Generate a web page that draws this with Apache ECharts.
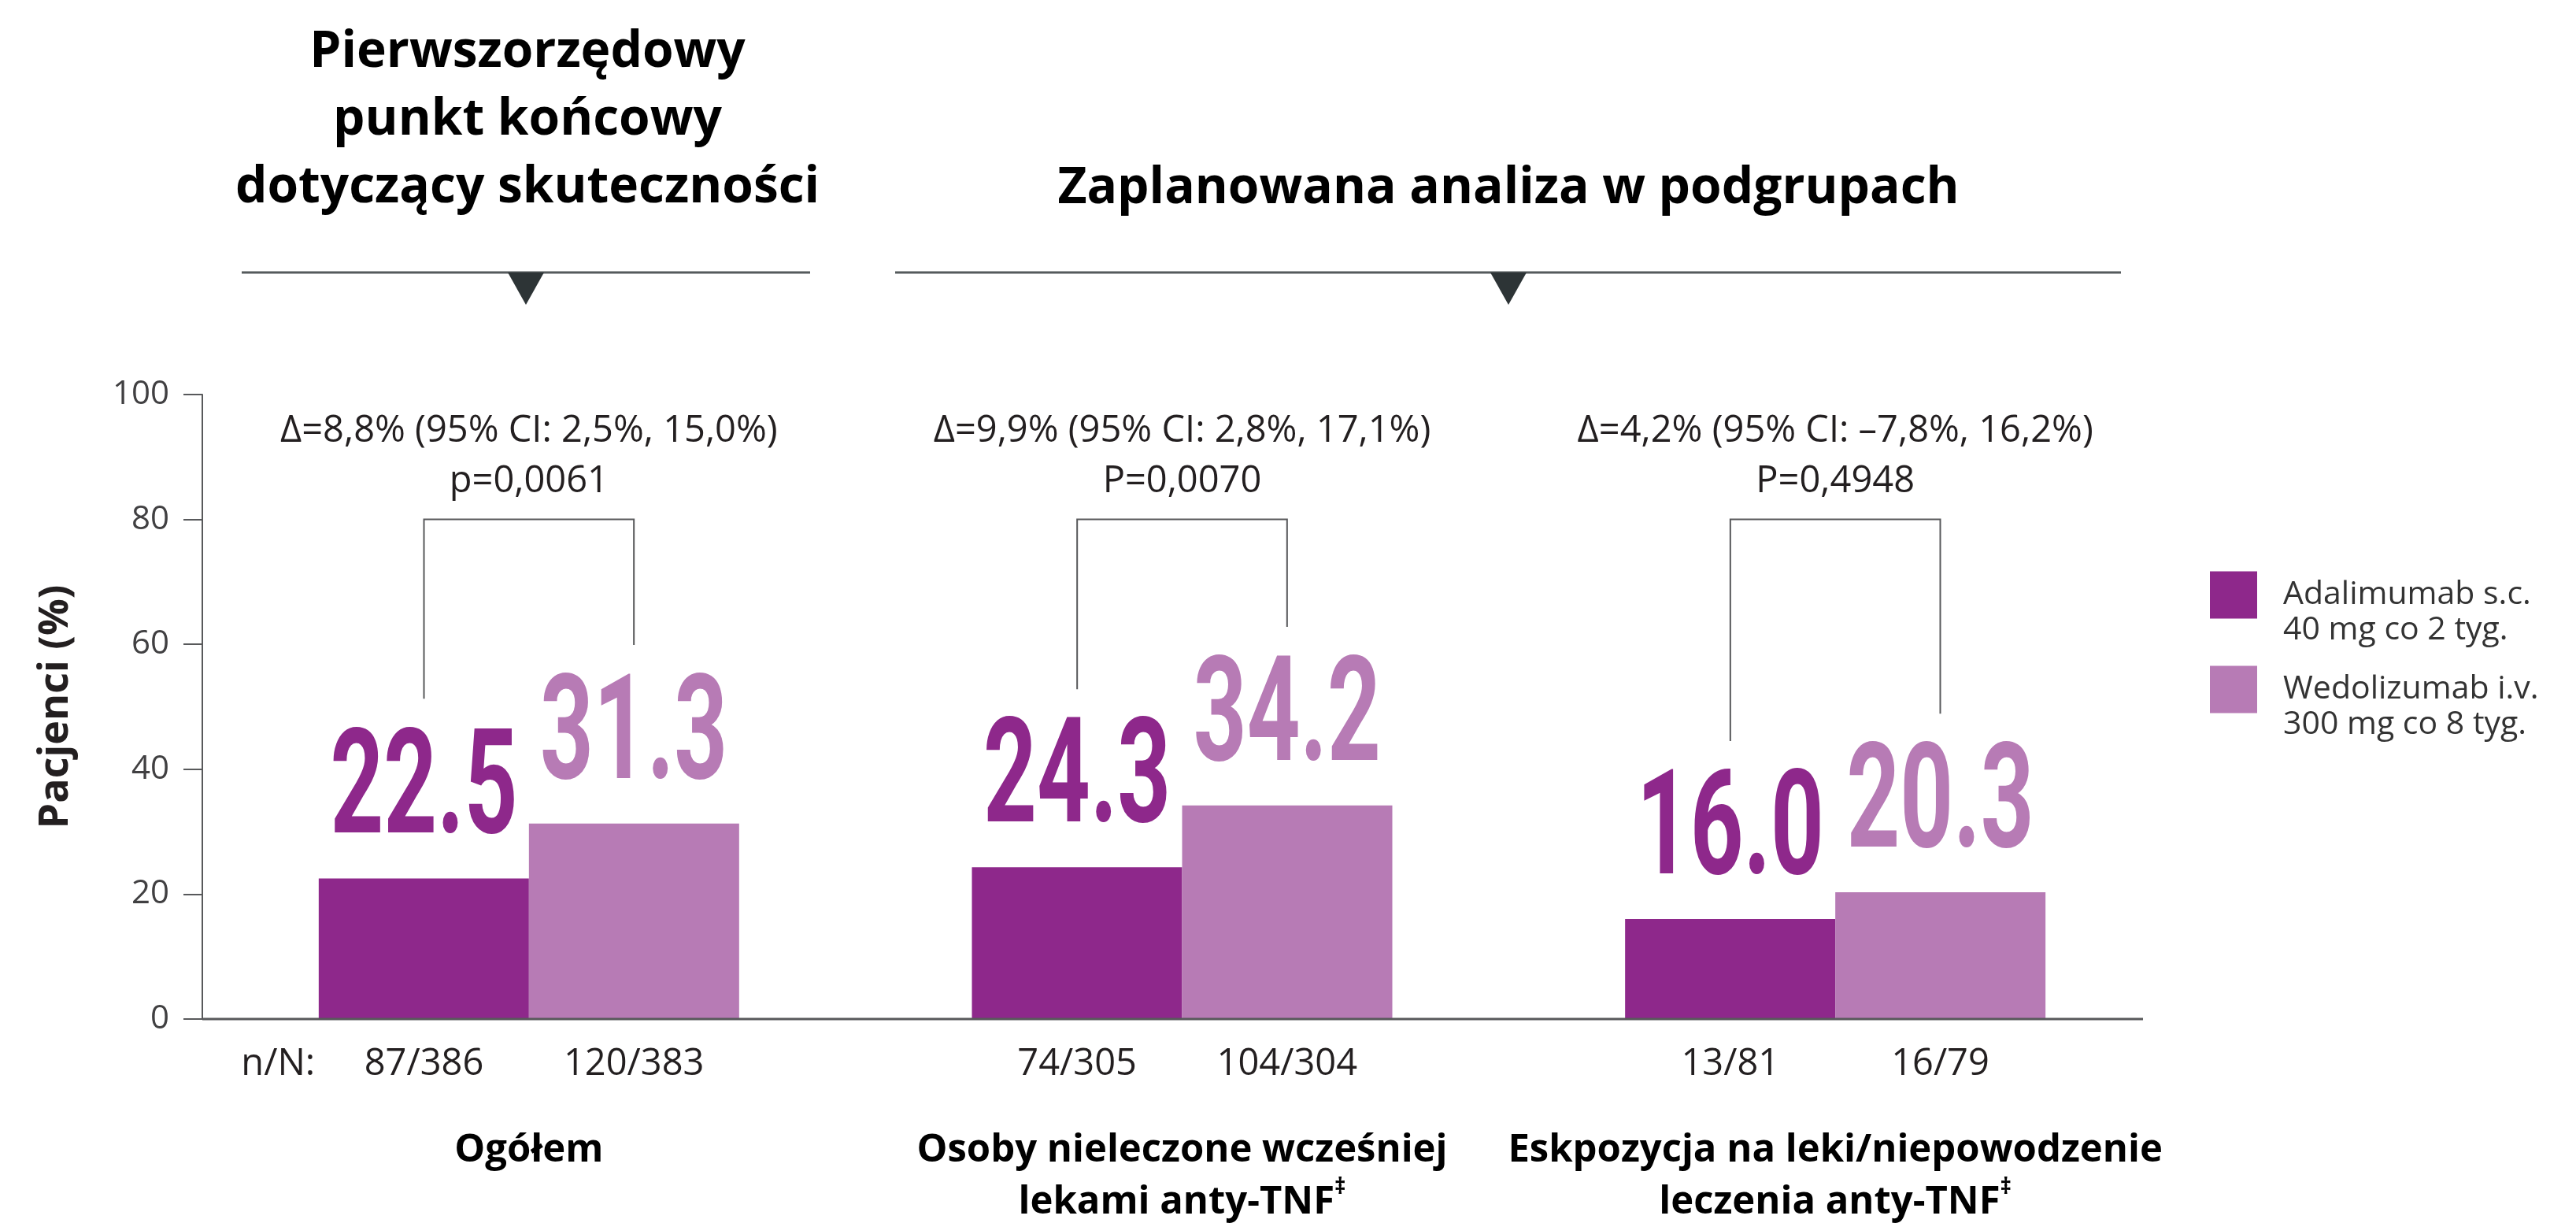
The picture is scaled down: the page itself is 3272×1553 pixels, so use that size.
<!DOCTYPE html>
<html>
<head>
<meta charset="utf-8">
<script src="https://cdn.jsdelivr.net/npm/echarts@6/dist/echarts.min.js"></script>
<style>
html,body{margin:0;padding:0;background:#fff;}
#chart{width:3272px;height:1553px;}
</style>
</head>
<body>
<div id="chart"></div>
<script>
const categories = ['Ogółem', 'Osoby nieleczone wcześniej\nlekami anty-TNF‡', 'Eskpozycja na leki/niepowodzenie\nleczenia anty-TNF‡'];
const seriesNames = ['Adalimumab s.c.\n40 mg co 2 tyg.', 'Wedolizumab i.v.\n300 mg co 8 tyg.'];
const adalimumab = [22.5, 24.3, 16.0];
const wedolizumab = [31.3, 34.2, 20.3];
const adalimumabN = ['87/386', '74/305', '13/81'];
const wedolizumabN = ['120/383', '104/304', '16/79'];
const deltaText = ['Δ=8,8% (95% CI: 2,5%, 15,0%)', 'Δ=9,9% (95% CI: 2,8%, 17,1%)', 'Δ=4,2% (95% CI: –7,8%, 16,2%)'];
const pText = ['p=0,0061', 'P=0,0070', 'P=0,4948'];
const bracketTop = [80, 80, 80];
const bracketLeft = [51.3, 52.8, 44.5];
const bracketRight = [59.9, 62.8, 48.9];
const nLabel = 'n/N:';
const header1 = 'Pierwszorzędowy\npunkt końcowy\ndotyczący skuteczności';
const header2 = 'Zaplanowana analiza w podgrupach';

const C1 = '#8E288B';
const C2 = '#B77BB5';
const FONT = "'Open Sans', 'Noto Sans', sans-serif";
const BIG = "'Roboto', 'Liberation Sans', sans-serif";
const TXT = '#231f20';
const AX = '#58595b';

const chart = echarts.init(document.getElementById('chart'), null, {renderer: 'canvas'});

function valueLabelSeries(values, color, sign) {
  return {
    type: 'custom', coordinateSystem: 'cartesian2d', silent: true, z: 6,
    data: values.map((v, i) => [i, v]),
    encode: {x: 0, y: 1},
    renderItem: function (params, api) {
      const band = api.size([1, 0])[0];
      const p = api.coord([api.value(0), api.value(1)]);
      return {
        type: 'text',
        x: p[0] + sign * band * 0.1607,
        y: p[1] - 12,
        scaleX: 0.64,
        style: {
          text: Number(api.value(1)).toFixed(1),
          x: 0, y: 0,
          textAlign: 'center', textVerticalAlign: 'bottom',
          fontFamily: BIG, fontWeight: 'bold', fontSize: 185, lineHeight: 185,
          fill: color
        }
      };
    }
  };
}

const option = {
  backgroundColor: '#fff',
  animation: false,
  textStyle: {fontFamily: FONT},
  grid: {left: 257, right: 526, top: 501, bottom: 259, containLabel: false, outerBoundsMode: 'none'},
  legend: {
    orient: 'vertical', left: 2807, top: 688, padding: 0,
    itemWidth: 60, itemHeight: 60, itemGap: -15,
    icon: 'rect',
    formatter: name => '\n' + name,
    textStyle: {fontFamily: FONT, fontSize: 41, lineHeight: 45, color: '#333', padding: [0, 0, 0, 28]},
    data: seriesNames
  },
  xAxis: {
    type: 'category', data: categories,
    axisLine: {show: false}, axisTick: {show: false},
    axisLabel: {
      interval: 0, margin: 134, fontFamily: FONT, fontWeight: 'bold', fontSize: 49, lineHeight: 66, color: '#000',
      formatter: v => v.replace('‡', '{sup|‡}'),
      rich: {sup: {fontFamily: FONT, fontWeight: 'bold', fontSize: 28, lineHeight: 28, verticalAlign: 'top', color: '#000'}}
    }
  },
  yAxis: {
    type: 'value', min: 0, max: 100, interval: 20,
    name: 'Pacjenci (%)', nameLocation: 'middle', nameGap: 160, nameRotate: 90,
    nameTextStyle: {fontFamily: FONT, fontWeight: 'bold', fontSize: 52, color: '#231f20'},
    axisLine: {show: true, lineStyle: {color: AX, width: 2}},
    axisTick: {show: true, length: 24, lineStyle: {color: AX, width: 2}},
    splitLine: {show: false},
    axisLabel: {margin: 42, fontFamily: FONT, fontSize: 42, color: '#414042'}
  },
  graphic: [
    {type: 'line', shape: {x1: 257, y1: 1294, x2: 2722, y2: 1294}, style: {stroke: AX, lineWidth: 3}, z: 10},
    {type: 'text', style: {text: header1, x: 670, y: 24, textAlign: 'center', textVerticalAlign: 'top', fontFamily: FONT, fontWeight: 'bold', fontSize: 64, lineHeight: 86, fill: '#000'}},
    {type: 'text', style: {text: header2, x: 1916, y: 240, textAlign: 'center', textVerticalAlign: 'middle', fontFamily: FONT, fontWeight: 'bold', fontSize: 64, fill: '#000'}},
    {type: 'line', shape: {x1: 307, y1: 346, x2: 1029, y2: 346}, style: {stroke: '#555a5c', lineWidth: 3}},
    {type: 'line', shape: {x1: 1137, y1: 346, x2: 2694, y2: 346}, style: {stroke: '#555a5c', lineWidth: 3}},
    {type: 'polygon', shape: {points: [[645, 346], [691, 346], [668, 387]]}, style: {fill: '#2d3436'}},
    {type: 'polygon', shape: {points: [[1893, 346], [1939, 346], [1916, 387]]}, style: {fill: '#2d3436'}}
  ],
  series: [
    {name: seriesNames[0], type: 'bar', data: adalimumab, barWidth: 267, barGap: '0%', itemStyle: {color: C1}},
    {name: seriesNames[1], type: 'bar', data: wedolizumab, barWidth: 267, barGap: '0%', itemStyle: {color: C2}},
    valueLabelSeries(adalimumab, C1, -1),
    valueLabelSeries(wedolizumab, C2, 1),
    {
      type: 'custom', coordinateSystem: 'cartesian2d', silent: true, z: 5,
      data: categories.map((c, i) => [i, bracketTop[i], bracketLeft[i], bracketRight[i]]),
      encode: {x: 0, y: 1},
      renderItem: function (params, api) {
        const i = params.dataIndex;
        const band = api.size([1, 0])[0];
        const off = band * 0.1607;
        const base = api.coord([api.value(0), 0]);
        const xl = base[0] - off, xr = base[0] + off;
        const yt = api.coord([api.value(0), api.value(1)])[1];
        const yl = api.coord([api.value(0), api.value(2)])[1];
        const yr = api.coord([api.value(0), api.value(3)])[1];
        const txt = (t, x, y, fs) => ({type: 'text', style: {text: t, x: x, y: y, textAlign: 'center', textVerticalAlign: 'middle', fontFamily: FONT, fontSize: fs, fill: TXT}});
        const children = [
          {type: 'polyline', shape: {points: [[xl, yl], [xl, yt], [xr, yt], [xr, yr]]}, style: {stroke: AX, lineWidth: 2, fill: null}},
          txt(deltaText[i], base[0], yt - 112, 47),
          txt(pText[i], base[0], yt - 48, 47),
          txt(adalimumabN[i], xl, base[1] + 58, 47),
          txt(wedolizumabN[i], xr, base[1] + 58, 47)
        ];
        if (i === 0) children.push(txt(nLabel, base[0] - band * 0.384, base[1] + 58, 47));
        return {type: 'group', children: children};
      }
    }
  ]
};
chart.setOption(option);
</script>
</body>
</html>
